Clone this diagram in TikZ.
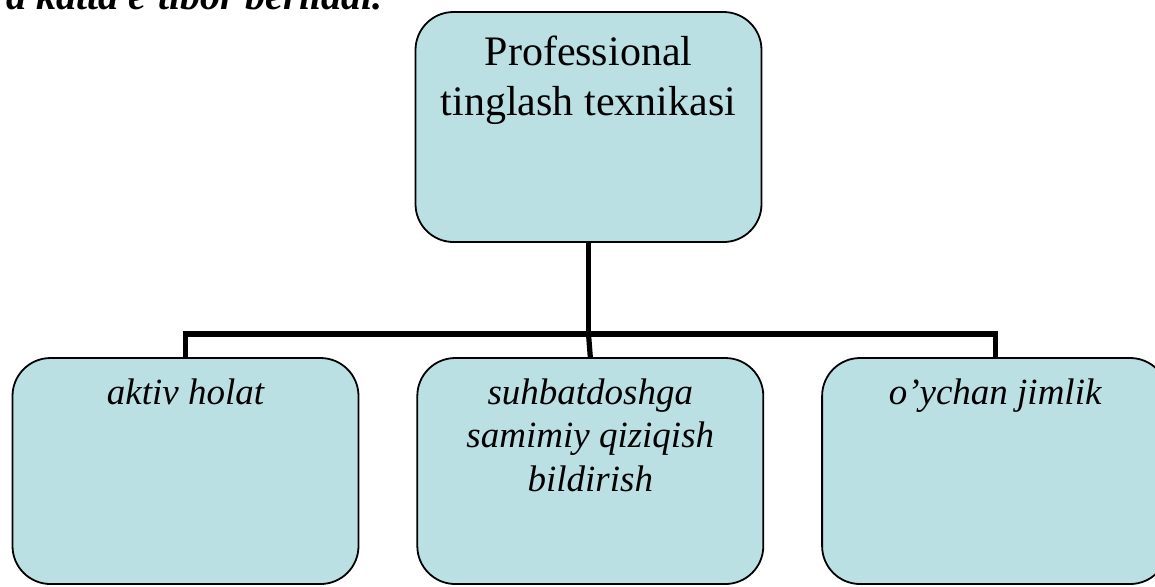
\documentclass[tikz,border=0pt]{standalone}
\usepackage{fontspec}
\setmainfont{Liberation Serif}
\usetikzlibrary{positioning}
\definecolor{ink}{RGB}{0,0,0}
\definecolor{boxfill}{RGB}{187,224,227}
\tikzset{
  topbox/.style={draw=ink,fill=boxfill,rounded corners=19pt,line width=0.9pt,inner sep=0pt,
    font=\fontsize{21}{25}\selectfont},
  subbox/.style={draw=ink,fill=boxfill,rounded corners=19pt,line width=0.9pt,inner sep=0pt,
    font=\itshape\fontsize{18.5}{21.75}\selectfont},
  link/.style={draw=ink,line width=2.6pt},
  lead/.style={anchor=base east,inner sep=0pt,font=\bfseries\itshape\fontsize{20}{24}\selectfont},
}
\newcommand{\boxbody}[3]{\parbox[c][#1][t]{173pt}{\centering\rule{0pt}{#2}#3}}

\begin{document}
\begin{tikzpicture}[x=0.5pt,y=-0.5pt]
\useasboundingbox (0,0) rectangle (1155,586);
% line of text cut off above the chart
\node[lead] (leadtxt) at (383,9) {a katta e’tibor beriladi.};
% root box
\node[topbox] (tech) at (588.5,127) {\boxbody{115pt}{26.5pt}{Professional\\tinglash texnikasi}};
% three children
\node[subbox] (aktiv) at (185.5,471) {\boxbody{113pt}{23pt}{aktiv holat}};
\node[subbox,right=28.5pt of aktiv] (suhbat) {\boxbody{113pt}{23pt}{suhbatdoshga\\samimiy qiziqish\\bildirish}};
\node[subbox,right=28.5pt of suhbat] (jimlik) {\boxbody{113pt}{23pt}{o’ychan jimlik}};
% connectors
\coordinate (bus) at (588.5,334);
\draw[link] (tech.south) -- (bus);
\draw[link] (aktiv.north) |- (bus) -| (jimlik.north);
\draw[link] (bus) -- (suhbat.north);
\end{tikzpicture}
\end{document}
